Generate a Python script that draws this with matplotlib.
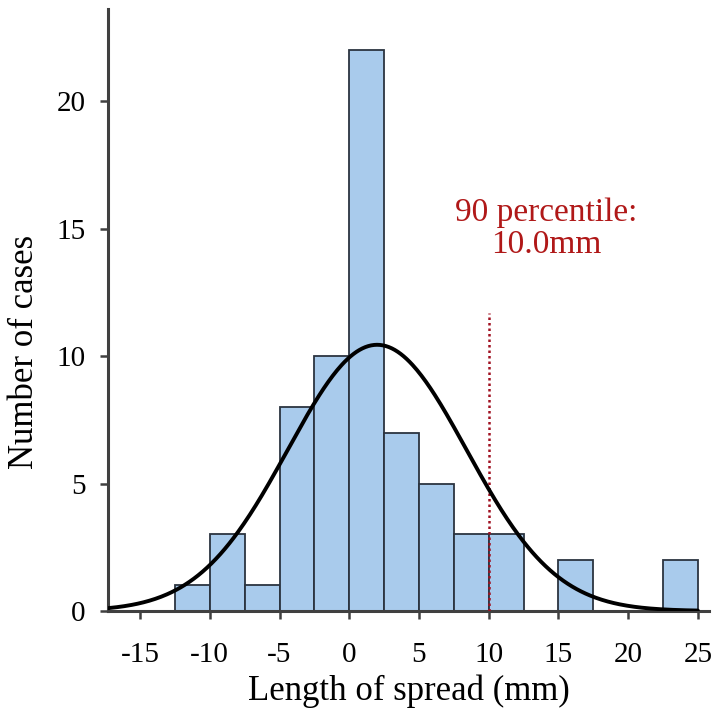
import numpy as np
import matplotlib
matplotlib.use("Agg")
import matplotlib.pyplot as plt

# Data
bin_edges = [-12.5, -10, -7.5, -5, -2.5, 0, 2.5, 5, 7.5, 10, 12.5, 15, 17.5, 20, 22.5, 25]
counts = [1, 3, 1, 8, 10, 22, 7, 5, 3, 3, 0, 2, 0, 0, 2]
fit_mean = 2.0
fit_sd = 6.4
percentile_90 = 10.0
x_ticks = [-15, -10, -5, 0, 5, 10, 15, 20, 25]
y_ticks = [0, 5, 10, 15, 20]

plt.rcParams['font.family'] = ['Liberation Serif', 'DejaVu Serif']

fig = plt.figure(figsize=(7.18, 7.12), dpi=100)
ax = fig.add_axes([0.1504, 0.1419, 0.8371, 0.845])

edges = np.array(bin_edges)
widths = np.diff(edges)
ax.bar(edges[:-1], counts, width=widths, align='edge', color='#a9cbec',
       edgecolor='#2b3440', linewidth=1.3, zorder=2)

n_total = sum(counts)
bw = widths[0]
xs = np.linspace(-17.3, 25.0, 400)
ys = n_total * bw / (fit_sd * np.sqrt(2 * np.pi)) * np.exp(-(xs - fit_mean) ** 2 / (2 * fit_sd ** 2))
ax.plot(xs, ys, color='black', linewidth=2.8, zorder=4, solid_capstyle='round')

ax.plot([percentile_90, percentile_90], [0, 11.7], color='#a01020', linestyle=(0, (1, 1.2)),
        linewidth=1.8, zorder=3)
ax.text(14.1, 15.0, "90 percentile:\n10.0mm", color='#b01818', fontsize=24,
        ha='center', va='center', linespacing=1.05)

ax.set_xlim(-17.3, 25.8)
ax.set_ylim(0, 23.6)
ax.set_xticks(x_ticks)
ax.set_xticklabels([str(t) for t in x_ticks])
ax.set_yticks(y_ticks)
for s in ['top', 'right']:
    ax.spines[s].set_visible(False)
for s in ['left', 'bottom']:
    ax.spines[s].set_color('#404040')
    ax.spines[s].set_linewidth(2.2)
ax.tick_params(axis='both', colors='#404040', labelcolor='black', labelsize=21,
               length=6, width=1.8, direction='out')
ax.tick_params(axis='x', pad=16)
ax.tick_params(axis='y', pad=10)
ax.set_xlabel("Length of spread (mm)", fontsize=25, labelpad=5)
ax.set_ylabel("Number of cases", fontsize=25)
ax.yaxis.set_label_coords(-0.112, 0.43)

fig.savefig("out.png", dpi=100)
